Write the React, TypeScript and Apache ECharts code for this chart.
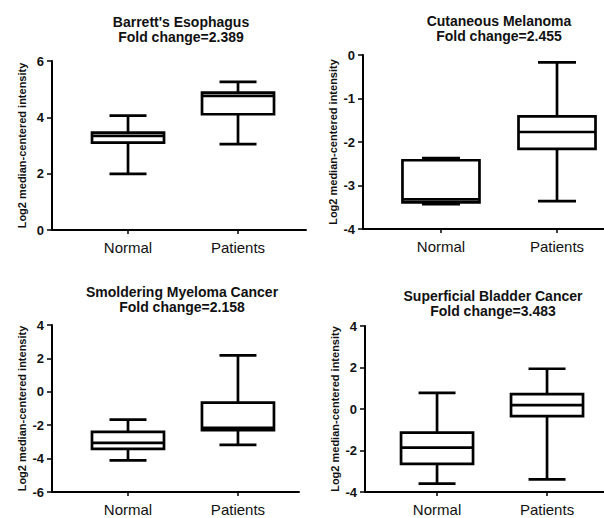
import React, { useEffect, useRef } from "react";
import * as echarts from "echarts";

// ---- data ----
const categories = ["Normal", "Patients"];
const panelTitles = [
  "Barrett's Esophagus",
  "Cutaneous Melanoma",
  "Smoldering Myeloma Cancer",
  "Superficial Bladder Cancer",
];
const foldChanges = ["2.389", "2.455", "2.158", "3.483"];
const yAxisName = "Log2 median-centered intensity";

// [min, Q1, median, Q3, max]
const barrettNormal = [1.99, 3.1, 3.34, 3.46, 4.06];
const barrettPatients = [3.05, 4.11, 4.76, 4.88, 5.26];
const melanomaNormal = [-3.43, -3.39, -3.32, -2.42, -2.37];
const melanomaPatients = [-3.36, -2.16, -1.77, -1.41, -0.17];
const myelomaNormal = [-4.11, -3.42, -3.06, -2.4, -1.67];
const myelomaPatients = [-3.18, -2.3, -2.16, -0.65, 2.18];
const bladderNormal = [-3.6, -2.64, -1.86, -1.14, 0.78];
const bladderPatients = [-3.39, -0.34, 0.19, 0.72, 1.94];

const panelData = [
  [barrettNormal, barrettPatients],
  [melanomaNormal, melanomaPatients],
  [myelomaNormal, myelomaPatients],
  [bladderNormal, bladderPatients],
];
const yMins = [0, -4, -6, -4];
const yMaxs = [6, 0, 4, 4];
const yIntervals = [2, 1, 2, 2];

// ---- layout ----
const FONT = "'Liberation Sans', Arial, Helvetica, sans-serif";
const layout = [
  { left: 52, top: 61, width: 254, height: 169, xMin: 0.309, xMax: 2.618, titleX: 181, titleY: 14, boxW: 72, capW: 37 },
  { left: 363, top: 55, width: 241, height: 174, xMin: 0.328, xMax: 2.405, titleX: 499, titleY: 13, boxW: 77, capW: 38 },
  { left: 52, top: 325, width: 247, height: 167, xMin: 0.309, xMax: 2.555, titleX: 182, titleY: 284, boxW: 72, capW: 37 },
  { left: 365, top: 326, width: 239, height: 166, xMin: 0.345, xMax: 2.518, titleX: 493, titleY: 288, boxW: 72, capW: 37 },
];

export default function App() {
  const ref = useRef<HTMLDivElement>(null);
  useEffect(() => {
    if (!ref.current) return;
    const chart = echarts.init(ref.current, null, { renderer: "svg" });

    const lineStyle = { stroke: "#000", lineWidth: 2.7, fill: "none" };

    const option: any = {
      animation: false,
      backgroundColor: "#fff",
      title: layout.map((l, i) => ({
        text: panelTitles[i] + "\nFold change=" + foldChanges[i],
        left: l.titleX,
        top: l.titleY,
        textAlign: "center",
        padding: 0,
        textStyle: {
          fontFamily: FONT,
          fontSize: 14,
          fontWeight: "bold",
          color: "#111",
          lineHeight: 15,
        },
      })),
      grid: layout.map((l) => ({
        left: l.left,
        top: l.top,
        width: l.width,
        height: l.height,
        containLabel: false,
      })),
      xAxis: layout.map((l, i) => ({
        type: "value",
        gridIndex: i,
        min: l.xMin,
        max: l.xMax,
        splitLine: { show: false },
        axisLine: { show: true, onZero: false, lineStyle: { color: "#000", width: 2 } },
        axisTick: { show: true, customValues: [1, 2], length: 4, lineStyle: { color: "#000", width: 1.5 } },
        axisLabel: {
          customValues: [1, 2],
          formatter: (v: number) => categories[Math.round(v) - 1] || "",
          color: "#111",
          fontFamily: FONT,
          fontSize: 15,
          margin: 10,
        },
      })),
      yAxis: layout.map((l, i) => ({
        type: "value",
        gridIndex: i,
        min: yMins[i],
        max: yMaxs[i],
        interval: yIntervals[i],
        name: yAxisName,
        nameLocation: "middle",
        nameRotate: 90,
        nameGap: 25,
        nameTextStyle: {
          fontFamily: FONT,
          fontSize: 11,
          fontWeight: "bold",
          color: "#111",
        },
        splitLine: { show: false },
        axisLine: { show: true, onZero: false, lineStyle: { color: "#000", width: 2 } },
        axisTick: { show: true, length: 5, lineStyle: { color: "#000", width: 1.5 } },
        axisLabel: {
          color: "#111",
          fontFamily: FONT,
          fontSize: 13,
          fontWeight: "bold",
          margin: 8,
        },
      })),
      series: layout.map((l, i) => ({
        type: "custom",
        xAxisIndex: i,
        yAxisIndex: i,
        encode: { x: 0, y: [1, 2, 3, 4, 5] },
        data: panelData[i].map((d, k) => [k + 1, ...d]),
        renderItem: (params: any, api: any) => {
          const x = api.value(0);
          const pMin = api.coord([x, api.value(1)]);
          const pQ1 = api.coord([x, api.value(2)]);
          const pMed = api.coord([x, api.value(3)]);
          const pQ3 = api.coord([x, api.value(4)]);
          const pMax = api.coord([x, api.value(5)]);
          const cx = pMin[0];
          const hw = l.boxW / 2;
          const cw = l.capW / 2;
          return {
            type: "group",
            children: [
              { type: "line", shape: { x1: cx, y1: pMax[1], x2: cx, y2: pQ3[1] }, style: lineStyle },
              { type: "line", shape: { x1: cx, y1: pQ1[1], x2: cx, y2: pMin[1] }, style: lineStyle },
              { type: "line", shape: { x1: cx - cw, y1: pMax[1], x2: cx + cw, y2: pMax[1] }, style: lineStyle },
              { type: "line", shape: { x1: cx - cw, y1: pMin[1], x2: cx + cw, y2: pMin[1] }, style: lineStyle },
              {
                type: "rect",
                shape: { x: cx - hw, y: pQ3[1], width: 2 * hw, height: pQ1[1] - pQ3[1] },
                style: lineStyle,
              },
              { type: "line", shape: { x1: cx - hw, y1: pMed[1], x2: cx + hw, y2: pMed[1] }, style: lineStyle },
            ],
          };
        },
      })),
    };

    chart.setOption(option);
    return () => chart.dispose();
  }, []);

  return (
    <div
      ref={ref}
      style={{ position: "absolute", left: 0, top: 0, width: 604, height: 518 }}
    />
  );
}
